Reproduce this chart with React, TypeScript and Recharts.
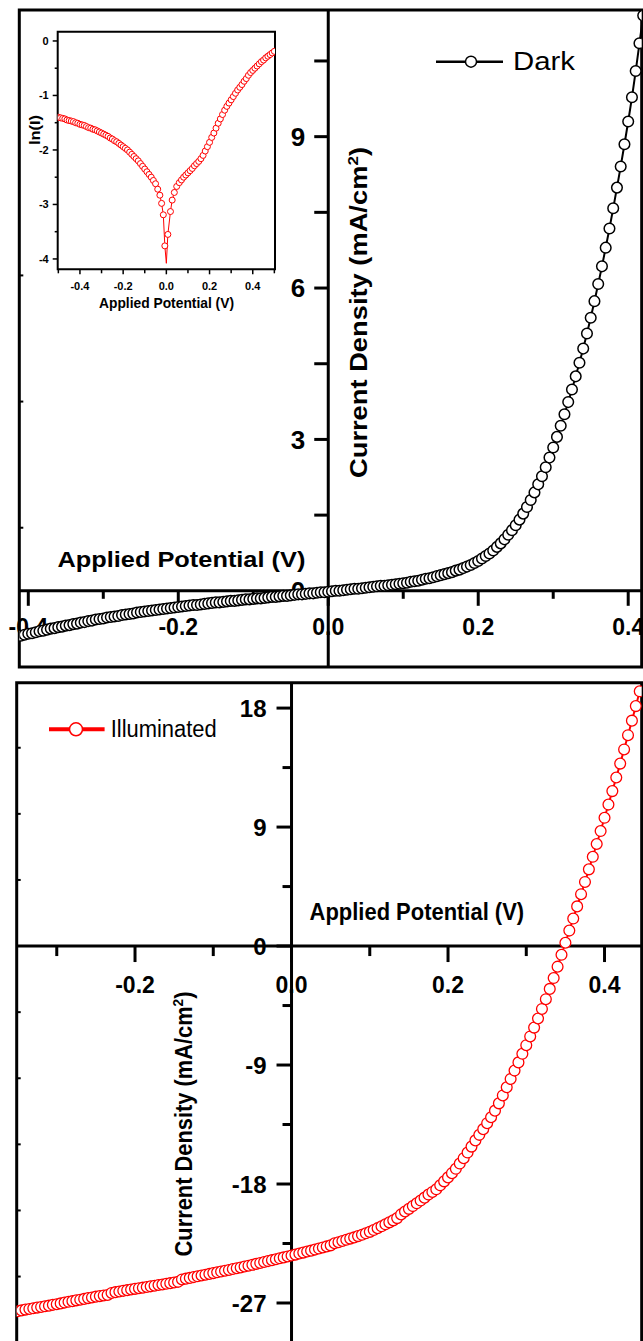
import React from "react";
import { LineChart, Line, XAxis, YAxis, ReferenceLine, ReferenceDot, ReferenceArea } from "recharts";

const FONT = "'Liberation Sans', Arial, Helvetica, sans-serif";
const RED = "#ff0000";

// dark J-V sweep: potential (V) and current density (mA/cm2)
const darkV = [
  -0.41, -0.405, -0.4, -0.395, -0.39, -0.385, -0.38, -0.375, -0.37, -0.365, -0.36, -0.355, -0.35, -0.345, -0.34,
  -0.335, -0.33, -0.325, -0.32, -0.315, -0.31, -0.305, -0.3, -0.295, -0.29, -0.285, -0.28, -0.275, -0.27, -0.265,
  -0.26, -0.255, -0.25, -0.245, -0.24, -0.235, -0.23, -0.225, -0.22, -0.215, -0.21, -0.205, -0.2, -0.195, -0.19,
  -0.185, -0.18, -0.175, -0.17, -0.165, -0.16, -0.155, -0.15, -0.145, -0.14, -0.135, -0.13, -0.125, -0.12, -0.115,
  -0.11, -0.105, -0.1, -0.095, -0.09, -0.085, -0.08, -0.075, -0.07, -0.065, -0.06, -0.055, -0.05, -0.045, -0.04,
  -0.035, -0.03, -0.025, -0.02, -0.015, -0.01, -0.005, 0, 0.005, 0.01, 0.015, 0.02, 0.025, 0.03, 0.035, 0.04, 0.045,
  0.05, 0.055, 0.06, 0.065, 0.07, 0.075, 0.08, 0.085, 0.09, 0.095, 0.1, 0.105, 0.11, 0.115, 0.12, 0.125, 0.13,
  0.135, 0.14, 0.145, 0.15, 0.155, 0.16, 0.165, 0.17, 0.175, 0.18, 0.185, 0.19, 0.195, 0.2, 0.205, 0.21, 0.215,
  0.22, 0.225, 0.23, 0.235, 0.24, 0.245, 0.25, 0.255, 0.26, 0.265, 0.27, 0.275, 0.28, 0.285, 0.29, 0.295, 0.3,
  0.305, 0.31, 0.315, 0.32, 0.325, 0.33, 0.335, 0.34, 0.345, 0.35, 0.355, 0.36, 0.365, 0.37, 0.375, 0.38, 0.385,
  0.39, 0.395, 0.4, 0.405, 0.41, 0.415, 0.42,
];
const darkJ = [
  -0.89, -0.87, -0.85, -0.84, -0.82, -0.8, -0.79, -0.77, -0.75, -0.74, -0.72, -0.71, -0.69, -0.68, -0.66,
  -0.65, -0.63, -0.62, -0.6, -0.59, -0.57, -0.56, -0.55, -0.53, -0.52, -0.51, -0.5, -0.48, -0.47, -0.46,
  -0.45, -0.43, -0.42, -0.41, -0.4, -0.39, -0.38, -0.37, -0.36, -0.35, -0.34, -0.33, -0.32, -0.31, -0.3,
  -0.29, -0.28, -0.28, -0.27, -0.26, -0.25, -0.24, -0.23, -0.23, -0.22, -0.21, -0.2, -0.2, -0.19, -0.18,
  -0.17, -0.17, -0.16, -0.15, -0.15, -0.14, -0.13, -0.12, -0.12, -0.11, -0.1, -0.1, -0.09, -0.08, -0.07,
  -0.07, -0.06, -0.05, -0.05, -0.04, -0.03, -0.03, -0.02, -0.01, 0, 0, 0.01, 0.02, 0.03, 0.04, 0.04, 0.05,
  0.06, 0.07, 0.08, 0.09, 0.1, 0.1, 0.11, 0.12, 0.13, 0.14, 0.15, 0.16, 0.18, 0.19, 0.2, 0.22, 0.24,
  0.25, 0.27, 0.29, 0.31, 0.33, 0.35, 0.37, 0.4, 0.42, 0.45, 0.48, 0.51, 0.55, 0.59, 0.64, 0.69, 0.74,
  0.8, 0.87, 0.94, 1.02, 1.11, 1.2, 1.3, 1.41, 1.53, 1.66, 1.8, 1.95, 2.11, 2.27, 2.45, 2.64, 2.84,
  3.05, 3.27, 3.5, 3.74, 3.99, 4.25, 4.52, 4.8, 5.1, 5.41, 5.74, 6.08, 6.43, 6.8, 7.18, 7.58, 7.99,
  8.41, 8.85, 9.3, 9.78, 10.3, 10.85, 11.4,
];

// illuminated J-V sweep
const illumV = [
  -0.35, -0.345, -0.34, -0.335, -0.33, -0.325, -0.32, -0.315, -0.31, -0.305, -0.3, -0.295, -0.29, -0.285, -0.28,
  -0.275, -0.27, -0.265, -0.26, -0.255, -0.25, -0.245, -0.24, -0.235, -0.23, -0.225, -0.22, -0.215, -0.21, -0.205,
  -0.2, -0.195, -0.19, -0.185, -0.18, -0.175, -0.17, -0.165, -0.16, -0.155, -0.15, -0.145, -0.14, -0.135, -0.13,
  -0.125, -0.12, -0.115, -0.11, -0.105, -0.1, -0.095, -0.09, -0.085, -0.08, -0.075, -0.07, -0.065, -0.06, -0.055,
  -0.05, -0.045, -0.04, -0.035, -0.03, -0.025, -0.02, -0.015, -0.01, -0.005, 0, 0.005, 0.01, 0.015, 0.02, 0.025,
  0.03, 0.035, 0.04, 0.045, 0.05, 0.055, 0.06, 0.065, 0.07, 0.075, 0.08, 0.085, 0.09, 0.095, 0.1, 0.105, 0.11,
  0.115, 0.12, 0.125, 0.13, 0.135, 0.14, 0.145, 0.15, 0.155, 0.16, 0.165, 0.17, 0.175, 0.18, 0.185, 0.19, 0.195,
  0.2, 0.205, 0.21, 0.215, 0.22, 0.225, 0.23, 0.235, 0.24, 0.245, 0.25, 0.255, 0.26, 0.265, 0.27, 0.275, 0.28,
  0.285, 0.29, 0.295, 0.3, 0.305, 0.31, 0.315, 0.32, 0.325, 0.33, 0.335, 0.34, 0.345, 0.35, 0.355, 0.36, 0.365,
  0.37, 0.375, 0.38, 0.385, 0.39, 0.395, 0.4, 0.405, 0.41, 0.415, 0.42, 0.425, 0.43, 0.435, 0.44, 0.445,
];
const illumJ = [
  -27.62, -27.56, -27.5, -27.45, -27.4, -27.35, -27.3, -27.25, -27.2, -27.14, -27.09, -27.03, -26.97, -26.91, -26.86,
  -26.8, -26.75, -26.69, -26.63, -26.58, -26.52, -26.48, -26.43, -26.39, -26.24, -26.18, -26.13, -26.08, -26.03, -25.98,
  -25.93, -25.88, -25.84, -25.79, -25.74, -25.69, -25.64, -25.6, -25.55, -25.5, -25.45, -25.4, -25.22, -25.16, -25.1,
  -25.04, -24.98, -24.92, -24.86, -24.8, -24.74, -24.68, -24.62, -24.56, -24.5, -24.43, -24.37, -24.31, -24.24, -24.18,
  -24.11, -24.04, -23.97, -23.9, -23.83, -23.76, -23.69, -23.62, -23.55, -23.48, -23.41, -23.34, -23.26, -23.19, -23.11,
  -23.04, -22.96, -22.88, -22.8, -22.72, -22.64, -22.48, -22.4, -22.31, -22.22, -22.13, -22.04, -21.94, -21.84, -21.73,
  -21.62, -21.48, -21.34, -21.2, -21.05, -20.9, -20.75, -20.58, -20.3, -20.08, -19.88, -19.67, -19.46, -19.25, -19.03,
  -18.8, -18.6, -18.4, -18.1, -17.8, -17.5, -17.18, -16.85, -16.45, -16.05, -15.62, -15.17, -14.7, -14.28, -13.85,
  -13.4, -12.95, -12.45, -11.9, -11.3, -10.68, -10.05, -9.42, -8.8, -8.15, -7.5, -6.84, -6.17, -5.48, -4.76,
  -4.02, -3.24, -2.42, -1.56, -0.66, 0.25, 1.17, 2.08, 3.0, 3.92, 4.85, 5.8, 6.75, 7.72, 8.7,
  9.7, 10.7, 11.72, 12.75, 13.8, 14.87, 15.95, 17.05, 18.15, 19.27,
];

// inset: ln(I) against potential
const insetV = [
  -0.5, -0.49, -0.48, -0.47, -0.46, -0.45, -0.44, -0.43, -0.42, -0.41, -0.4, -0.39, -0.38, -0.37, -0.36, -0.35,
  -0.34, -0.33, -0.32, -0.31, -0.3, -0.29, -0.28, -0.27, -0.26, -0.25, -0.24, -0.23, -0.22, -0.21, -0.2, -0.19,
  -0.18, -0.17, -0.16, -0.15, -0.14, -0.13, -0.12, -0.11, -0.1, -0.09, -0.08, -0.07, -0.06, -0.05, -0.04, -0.03,
  -0.022, -0.014, -0.007, 0, 0.007, 0.019, 0.027, 0.037, 0.048, 0.06, 0.07, 0.08, 0.09, 0.1, 0.11, 0.12, 0.13,
  0.14, 0.15, 0.16, 0.17, 0.18, 0.19, 0.2, 0.21, 0.22, 0.23, 0.24, 0.25, 0.26, 0.27, 0.28, 0.29, 0.3, 0.31, 0.32,
  0.33, 0.34, 0.35, 0.36, 0.37, 0.38, 0.39, 0.4, 0.41, 0.42, 0.43, 0.44, 0.45, 0.46, 0.47, 0.48, 0.49, 0.5,
];
const insetLn = [
  -1.4, -1.41, -1.42, -1.43, -1.45, -1.46, -1.47, -1.48, -1.5, -1.51, -1.53, -1.54, -1.55, -1.57, -1.59, -1.6,
  -1.62, -1.63, -1.65, -1.67, -1.69, -1.71, -1.73, -1.75, -1.78, -1.8, -1.83, -1.85, -1.88, -1.91, -1.94, -1.97,
  -2.0, -2.04, -2.08, -2.12, -2.16, -2.2, -2.25, -2.3, -2.35, -2.4, -2.45, -2.5, -2.56, -2.62, -2.72, -2.83,
  -2.98, -3.19, -3.76, -4.08, -3.55, -3.13, -2.92, -2.78, -2.67, -2.6, -2.55, -2.5, -2.46, -2.42, -2.38, -2.34, -2.29,
  -2.25, -2.21, -2.16, -2.1, -2.02, -1.94, -1.86, -1.77, -1.69, -1.6, -1.51, -1.43, -1.35, -1.27, -1.2, -1.14, -1.08,
  -1.02, -0.96, -0.9, -0.85, -0.8, -0.74, -0.69, -0.63, -0.58, -0.54, -0.5, -0.46, -0.42, -0.38, -0.35, -0.31,
  -0.28, -0.25, -0.22, -0.19,
];

const darkXMajor = [-0.4, -0.2, 0, 0.2, 0.4];
const darkXMinor = [-0.3, -0.1, 0.1, 0.3];
const darkYMajor = [0, 3, 6, 9];
const darkYMinor = [1.5, 4.5, 7.5, 10.5];
const darkEdgeTicks = [1.25, 3.75, 6.25];

const illumXMajor = [-0.2, 0, 0.2, 0.4];
const illumXMinor = [-0.3, -0.1, 0.1, 0.3];
const illumYMajor = [-27, -18, -9, 0, 9, 18];
const illumYMinor = [-22.5, -13.5, -4.5, 4.5, 13.5];
const illumEdgeTicks = [-25, -20, -15, -10, -5, 5, 10, 15];

const insetXMajor = [-0.4, -0.2, 0, 0.2, 0.4];
const insetXMinor = [-0.5, -0.3, -0.1, 0.1, 0.3, 0.5];
const insetYMajor = [0, -1, -2, -3, -4];
const insetYMinor = [-0.5, -1.5, -2.5, -3.5];

const darkData = darkV.map((v, i) => ({ v, j: darkJ[i] }));
const illumData = illumV.map((v, i) => ({ v, j: illumJ[i] }));
const insetData = insetV.map((v, i) => ({ v, ln: insetLn[i] }));

const DARK_X: [number, number] = [-0.412, 0.418];
const DARK_Y: [number, number] = [-1.51, 11.51];
const ILLUM_X: [number, number] = [-0.3512, 0.4475];
const ILLUM_Y: [number, number] = [-30.48, 19.92];
const INSET_X: [number, number] = [-0.503, 0.503];
const INSET_Y: [number, number] = [-4.19, 0.17];

type TickOpts = {
  len: number;
  width?: number;
  label?: (t: number) => string;
  fontSize?: number;
  off?: number; // label distance from the axis
  dir?: 1 | -1;
};

// vertical tick marks (for an x axis) hung on the line y = at
const xTicks = (key: string, values: number[], at: number, o: TickOpts) =>
  values.map((t) => (
    <ReferenceDot
      key={`${key}${t}`}
      x={t}
      y={at}
      r={0}
      ifOverflow="visible"
      shape={(p: any) => (
        <g>
          <line x1={p.cx} x2={p.cx} y1={p.cy} y2={p.cy + (o.dir ?? 1) * o.len} stroke="#000" strokeWidth={o.width ?? 3} />
          {o.label && (
            <text
              x={p.cx}
              y={p.cy + (o.off ?? 0)}
              textAnchor="middle"
              fontSize={o.fontSize}
              fontWeight="bold"
              fontFamily={FONT}
              fill="#000"
            >
              {o.label(t)}
            </text>
          )}
        </g>
      )}
    />
  ));

// horizontal tick marks (for a y axis) on the line x = at
const yTicks = (key: string, values: number[], at: number, o: TickOpts) =>
  values.map((t) => (
    <ReferenceDot
      key={`${key}${t}`}
      x={at}
      y={t}
      r={0}
      ifOverflow="visible"
      shape={(p: any) => (
        <g>
          <line x1={p.cx} x2={p.cx - (o.dir ?? 1) * o.len} y1={p.cy} y2={p.cy} stroke="#000" strokeWidth={o.width ?? 3} />
          {o.label && (
            <text
              x={p.cx - (o.off ?? 0)}
              y={p.cy + (o.fontSize ?? 20) * 0.36}
              textAnchor="end"
              fontSize={o.fontSize}
              fontWeight="bold"
              fontFamily={FONT}
              fill="#000"
            >
              {o.label(t)}
            </text>
          )}
        </g>
      )}
    />
  ));

const fx = (t: number) => t.toFixed(1);
const fy = (t: number) => String(t);

const insetDot = (p: any) =>
  p.payload.v === 0 ? (
    <g key={`d${p.index}`} />
  ) : (
    <circle key={`d${p.index}`} cx={p.cx} cy={p.cy} r={3} stroke={RED} strokeWidth={1} fill="#fff" />
  );

export default function App() {
  const txt = { fontFamily: FONT, fill: "#000" } as const;
  return (
    <div style={{ position: "absolute", left: 0, top: 0, width: 643, height: 1341, overflow: "hidden", background: "#fff" }}>
      {/* dark panel */}
      <div style={{ position: "absolute", left: 0, top: 0 }}>
        <LineChart width={643} height={690} data={darkData} margin={{ top: 10, right: 1.3, bottom: 23, left: 19.3 }}>
          <XAxis type="number" dataKey="v" domain={DARK_X} allowDataOverflow hide />
          <YAxis type="number" domain={DARK_Y} allowDataOverflow hide />
          <ReferenceArea x1={DARK_X[0]} x2={DARK_X[1]} y1={DARK_Y[0]} y2={DARK_Y[1]} fill="none" stroke="#000" strokeWidth={3} ifOverflow="visible" />
          <ReferenceLine y={0} stroke="#000" strokeWidth={3} />
          <ReferenceLine x={0} stroke="#000" strokeWidth={3} />
          {xTicks("dxM", darkXMajor, 0, { len: 15, label: fx, fontSize: 23, off: 44 })}
          {xTicks("dxm", darkXMinor, 0, { len: 8 })}
          {yTicks("dyM", darkYMajor, 0, { len: 14, label: fy, fontSize: 26, off: 23 })}
          {yTicks("dym", darkYMinor, 0, { len: 14 })}
          {yTicks("dye", darkEdgeTicks, DARK_X[0], { len: 4, width: 2, dir: -1 })}
          <Line
            dataKey="j"
            stroke="#000"
            strokeWidth={2}
            dot={{ r: 5.3, stroke: "#000", strokeWidth: 1.5, fill: "#fff" }}
            activeDot={false}
            isAnimationActive={false}
          />
        </LineChart>
      </div>

      {/* inset */}
      <div style={{ position: "absolute", left: 0, top: 0 }}>
        <LineChart width={300} height={320} data={insetData} margin={{ top: 31.7, right: 25, bottom: 50.7, left: 57.7 }}>
          <XAxis type="number" dataKey="v" domain={INSET_X} allowDataOverflow hide />
          <YAxis type="number" domain={INSET_Y} allowDataOverflow hide />
          <ReferenceArea x1={INSET_X[0]} x2={INSET_X[1]} y1={INSET_Y[0]} y2={INSET_Y[1]} fill="none" stroke="#000" strokeWidth={2} ifOverflow="visible" />
          {xTicks("ixM", insetXMajor, INSET_Y[0], { len: 5, width: 1.5, label: fx, fontSize: 11, off: 20.5 })}
          {xTicks("ixm", insetXMinor, INSET_Y[0], { len: 4, width: 1.5 })}
          {yTicks("iyM", insetYMajor, INSET_X[0], { len: 5, width: 1.5, label: fy, fontSize: 11, off: 9 })}
          {yTicks("iym", insetYMinor, INSET_X[0], { len: 3, width: 1.5 })}
          <Line dataKey="ln" stroke={RED} strokeWidth={1} dot={insetDot} activeDot={false} isAnimationActive={false} />
        </LineChart>
      </div>

      {/* illuminated panel */}
      <div style={{ position: "absolute", left: 0, top: 670 }}>
        <LineChart width={643} height={680} data={illumData} margin={{ top: 12.7, right: 1.3, bottom: 1, left: 16.7 }}>
          <XAxis type="number" dataKey="v" domain={ILLUM_X} allowDataOverflow hide />
          <YAxis type="number" domain={ILLUM_Y} allowDataOverflow hide />
          <ReferenceArea x1={ILLUM_X[0]} x2={ILLUM_X[1]} y1={ILLUM_Y[0]} y2={ILLUM_Y[1]} fill="none" stroke="#000" strokeWidth={3} ifOverflow="visible" />
          <ReferenceLine y={0} stroke="#000" strokeWidth={3} />
          <ReferenceLine x={0} stroke="#000" strokeWidth={3} />
          {xTicks("lxM", illumXMajor, 0, { len: 16, label: fx, fontSize: 23, off: 47 })}
          {xTicks("lxm", illumXMinor, 0, { len: 10 })}
          {yTicks("lyM", illumYMajor, 0, { len: 15, label: fy, fontSize: 24, off: 25 })}
          {yTicks("lym", illumYMinor, 0, { len: 9 })}
          {yTicks("lye", illumEdgeTicks, ILLUM_X[0], { len: 4, width: 2, dir: -1 })}
          <Line
            dataKey="j"
            stroke={RED}
            strokeWidth={2}
            dot={{ r: 5.4, stroke: RED, strokeWidth: 1.3, fill: "#fff" }}
            activeDot={false}
            isAnimationActive={false}
          />
        </LineChart>
      </div>

      {/* titles and legends */}
      <svg width={643} height={1341} style={{ position: "absolute", left: 0, top: 0, pointerEvents: "none" }}>
        <text {...txt} x={57.4} y={567.3} fontSize={22} fontWeight="bold" textLength={248} lengthAdjust="spacingAndGlyphs">
          Applied Potential (V)
        </text>
        <text {...txt} transform="translate(367,312.5) rotate(-90)" textAnchor="middle" fontSize={24} fontWeight="bold" textLength={331} lengthAdjust="spacingAndGlyphs">
          Current Density (mA/cm<tspan dy={-9} fontSize={15}>2</tspan>
          <tspan dy={9}>)</tspan>
        </text>
        <line x1={436} x2={503} y1={61.7} y2={61.7} stroke="#000" strokeWidth={2.5} />
        <circle cx={471} cy={61.7} r={5.5} stroke="#000" strokeWidth={1.5} fill="#fff" />
        <text {...txt} x={513} y={69.5} fontSize={25} textLength={62} lengthAdjust="spacingAndGlyphs">
          Dark
        </text>

        <text {...txt} x={99} y={308.3} fontSize={14} fontWeight="bold" textLength={135} lengthAdjust="spacingAndGlyphs">
          Applied Potential (V)
        </text>
        <text {...txt} transform="translate(39.5,130) rotate(-90)" textAnchor="middle" fontSize={15} fontWeight="bold" textLength={30} lengthAdjust="spacingAndGlyphs">
          ln(I)
        </text>

        <line x1={49} x2={104.6} y1={729.3} y2={729.3} stroke={RED} strokeWidth={4} />
        <circle cx={76} cy={729.3} r={6.5} stroke={RED} strokeWidth={1.5} fill="#fff" />
        <text {...txt} x={110.7} y={736.7} fontSize={23} textLength={106} lengthAdjust="spacingAndGlyphs">
          Illuminated
        </text>
        <text {...txt} x={309.6} y={920} fontSize={23} fontWeight="bold" textLength={214.5} lengthAdjust="spacingAndGlyphs">
          Applied Potential (V)
        </text>
        <text {...txt} transform="translate(192,1124) rotate(-90)" textAnchor="middle" fontSize={24} fontWeight="bold" textLength={265} lengthAdjust="spacingAndGlyphs">
          Current Density (mA/cm<tspan dy={-9} fontSize={15}>2</tspan>
          <tspan dy={9}>)</tspan>
        </text>
      </svg>
    </div>
  );
}
